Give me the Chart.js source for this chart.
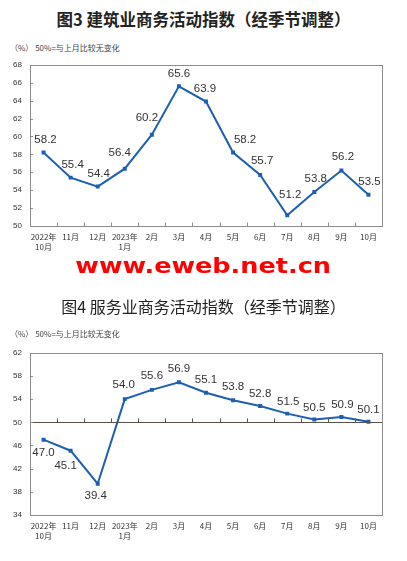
<!DOCTYPE html>
<html>
<head>
<meta charset="utf-8">
<script src="https://cdn.jsdelivr.net/npm/chart.js@4.4.0/dist/chart.umd.min.js"></script>
<style>
  body { margin: 0; background: #fff; width: 407px; height: 561px; position: relative; overflow: hidden;
         font-family: "Noto Sans CJK SC", "Liberation Sans", sans-serif; }
  .title { position: absolute; left: 0; width: 407px; text-align: center; color: #222; white-space: nowrap; }
  .sub { position: absolute; left: 10px; font-size: 8px; color: #444; white-space: nowrap; }
  canvas { position: absolute; left: 0; }
  .mark { position: absolute; left: 0; width: 407px; text-align: center; color: #ff0000;
          font-family: "DejaVu Sans", sans-serif; font-weight: bold; font-size: 22px; line-height: 22px; }
  .mark span { display: inline-block; transform: scaleX(1.16); }
</style>
</head>
<body>
<div class="title" style="top:7px; font-size:16.5px; font-weight:bold;">图3 建筑业商务活动指数（经季节调整）</div>
<div class="sub" style="top:42px;">（%） 50%=与上月比较无变化</div>
<canvas id="chart1" width="407" height="210" style="top:52px;"></canvas>

<div class="mark" style="top:255px;"><span>www.eweb.net.cn</span></div>

<div class="title" style="top:294px; font-size:16px;">图4 服务业商务活动指数（经季节调整）</div>
<div class="sub" style="top:328px;">（%） 50%=与上月比较无变化</div>
<canvas id="chart2" width="407" height="212" style="top:340px;"></canvas>

<script>
// 월 라벨 (두 차트 공통)
const months = [['2022年', '10月'], '11月', '12月', ['2023年', '1月'], '2月', '3月', '4月', '5月', '6月', '7月', '8月', '9月', '10月']

// 건축업 商务活动指数
const buildValues = [58.2, 55.4, 54.4, 56.4, 60.2, 65.6, 63.9, 58.2, 55.7, 51.2, 53.8, 56.2, 53.5]
// 服务业 商务活动指数
const serviceValues = [47.0, 45.1, 39.4, 54.0, 55.6, 56.9, 55.1, 53.8, 52.8, 51.5, 50.5, 50.9, 50.1]

const lineColor = '#1d5fb4'
const frameColor = '#8c8c8c'

// 테두리, 눈금, 값 라벨 그리는 플러그인
const framePlugin = {
    id: 'frame',
    afterDatasetsDraw(chart, args, opts) {
        const ctx = chart.ctx
        const area = chart.chartArea
        const x = chart.scales.x
        const y = chart.scales.y
        ctx.save()

        // 기준선 (차트2는 50)
        const baseY = opts.baseValue != null ? Math.round(y.getPixelForValue(opts.baseValue)) + 0.5 : Math.round(area.bottom) + 0.5
        if (opts.baseValue != null) {
            ctx.strokeStyle = '#5a5048'
            ctx.lineWidth = 1
            ctx.beginPath()
            ctx.moveTo(area.left, baseY)
            ctx.lineTo(area.right, baseY)
            ctx.stroke()
        }

        // 바깥 테두리
        ctx.strokeStyle = frameColor
        ctx.lineWidth = 1
        ctx.strokeRect(Math.round(area.left) + 0.5, Math.round(area.top) + 0.5,
            Math.round(area.right - area.left), Math.round(area.bottom - area.top))

        // x축 구간 눈금
        ctx.strokeStyle = opts.baseValue != null ? '#5a5048' : frameColor
        for (let i = 0; i < months.length - 1; i++) {
            const px = Math.round((x.getPixelForTick(i) + x.getPixelForTick(i + 1)) / 2) + 0.5
            ctx.beginPath()
            ctx.moveTo(px, baseY)
            ctx.lineTo(px, baseY - 4)
            ctx.stroke()
        }

        // y축 눈금
        ctx.strokeStyle = frameColor
        for (const t of y.ticks) {
            const py = Math.round(y.getPixelForValue(t.value)) + 0.5
            ctx.beginPath()
            ctx.moveTo(area.left, py)
            ctx.lineTo(area.left + 3, py)
            ctx.stroke()
        }

        // 값 라벨
        const meta = chart.getDatasetMeta(0)
        const values = chart.data.datasets[0].data
        ctx.fillStyle = '#333'
        ctx.font = '11.5px "Liberation Sans", Arial, sans-serif'
        ctx.textAlign = 'center'
        ctx.textBaseline = 'middle'
        meta.data.forEach((pt, i) => {
            const dx = opts.dx[i] || 0
            const dy = opts.dy[i]
            ctx.fillText(values[i].toFixed(1), pt.x + dx, pt.y + dy)
        })
        ctx.restore()
    }
}

function makeChart(id, values, yMin, yMax, step, padTop, xHeight, labelOpts) {
    const ctx = document.getElementById(id).getContext('2d')
    return new Chart(ctx, {
        type: 'line',
        data: {
            labels: months,
            datasets: [{
                data: values,
                borderColor: lineColor,
                backgroundColor: lineColor,
                borderWidth: 2,
                pointStyle: 'rect',
                pointRadius: 2.8,
                pointBorderWidth: 0,
                tension: 0
            }]
        },
        options: {
            responsive: false,
            animation: false,
            layout: { padding: { top: padTop, right: 25, left: 0, bottom: 0 } },
            plugins: {
                legend: { display: false },
                tooltip: { enabled: false },
                frame: labelOpts
            },
            scales: {
                x: {
                    offset: true,
                    grid: { display: false, drawTicks: false },
                    border: { display: false },
                    ticks: {
                        color: '#333',
                        padding: 6,
                        maxRotation: 0,
                        autoSkip: false,
                        font: { size: 8, family: '"Noto Sans CJK SC", sans-serif', lineHeight: 1.25 }
                    },
                    afterFit(scale) { scale.height = xHeight }
                },
                y: {
                    min: yMin,
                    max: yMax,
                    grid: { display: false, drawTicks: false },
                    border: { display: false },
                    ticks: {
                        stepSize: step,
                        color: '#333',
                        padding: 8,
                        font: { size: 8, family: '"Liberation Sans", Arial, sans-serif' }
                    },
                    afterFit(scale) { scale.width = 30 }
                }
            }
        },
        plugins: [framePlugin]
    })
}

makeChart('chart1', buildValues, 50, 68, 2, 10, 36, {
    dx: [2, 2, 1, -5, -5, 0, -1, 12, 2, 3, 1.5, 1.5, 1],
    dy: [-13, -13, -13, -16, -17, -12, -13, -13, -14, -20, -13, -13.5, -13]
})

makeChart('chart2', serviceValues, 34, 62, 4, 9, 37, {
    baseValue: 50,
    dx: [0, -5, -2, -1, 0, 0, 0, 0, 0, 1, 0, 1, 0],
    dy: [13, 15, 12, -14, -14, -14, -13, -13.5, -12.5, -12, -12, -12.5, -11.5]
})
</script>
</body>
</html>
